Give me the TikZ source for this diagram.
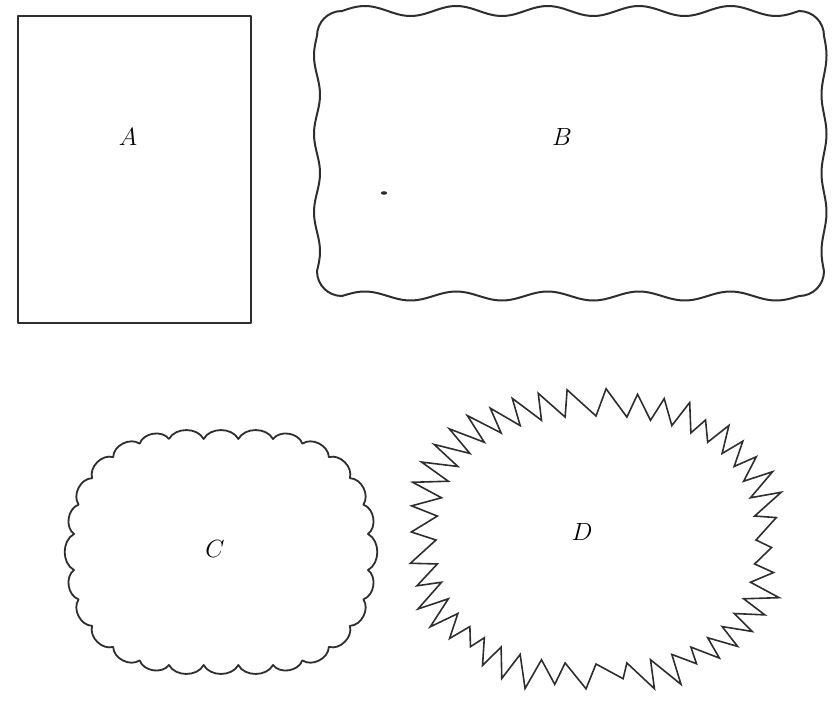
\documentclass[tikz,border=0pt]{standalone}
\begin{document}
\begin{tikzpicture}[x=1pt,y=-1pt,
  outline/.style={draw=black!82, line width=2pt, line join=round},
  letter/.style={font=\fontsize{24}{24}\selectfont, inner sep=0pt}]
\useasboundingbox (0,0) rectangle (835,707);
% A
\draw[outline] (18,16) rectangle (251,323);
\node[letter] (la) at (128,137) {$A$};
% B
\draw[outline]
  (342,11) -- plot[domain=342:799, samples=90, smooth] (\x,{11-5*sin(1800/457*(\x-342))})
  .. controls (813,11) and (824,22) .. (824,36)
  -- plot[domain=36:271, samples=50, smooth] ({824+2.5*sin(1080/235*(\x-36))},\x)
  .. controls (824,285) and (813,296) .. (799,296)
  -- plot[domain=799:342, samples=90, smooth] (\x,{296-4.5*sin(1800/457*(\x-342))})
  .. controls (328,296) and (317,285) .. (317,271)
  -- plot[domain=271:36, samples=50, smooth] ({317-3*sin(1080/235*(\x-36))},\x)
  .. controls (317,22) and (328,11) .. (342,11) -- cycle;
\node[letter] (lb) at (562,137) {$B$};
\fill[black!82] (384,193) ellipse (3.2 and 1.8);
% C : scalloped rounded outline
\foreach \k in {0,...,2} {
  \pgfmathtruncatemacro\n{\k}
  \coordinate (c\n) at ({169+\k*34.67},439);
  \pgfmathtruncatemacro\n{\k+14}
  \coordinate (c\n) at ({273-\k*34.67},665);
}
\foreach \k in {0,...,4} {
  \pgfmathtruncatemacro\n{\k+3}
  \coordinate (c\n) at ({273+95*cos(270+\k*18)},{534+95*sin(270+\k*18)});
  \pgfmathtruncatemacro\n{\k+9}
  \coordinate (c\n) at ({273+95*cos(\k*18)},{570+95*sin(\k*18)});
  \pgfmathtruncatemacro\n{\k+17}
  \coordinate (c\n) at ({169+95*cos(90+\k*18)},{570+95*sin(90+\k*18)});
  \pgfmathtruncatemacro\n{\k+23}
  \coordinate (c\n) at ({169+95*cos(180+\k*18)},{534+95*sin(180+\k*18)});
}
\coordinate (c8) at (368,534);
\coordinate (c22) at (74,570);
\draw[outline, line width=1.8pt] (c0) \foreach \i [evaluate=\i as \j using {int(mod(\i+1,28))}] in {0,...,27} { to[bend left=62] (c\j) };
\node[letter] (lc) at (215,549) {$C$};
% D : zigzag outline
\pgfmathsetseed{3}
\foreach \i in {0,...,43} {
  \pgfmathsetmacro\t{\i*360/44}
  \pgfmathsetmacro\ta{\t+360/44*0.22}
  \pgfmathsetmacro\dd{14+18*rnd}
  \pgfmathsetmacro\ct{cos(\t)}
  \pgfmathsetmacro\st{sin(\t)}
  \pgfmathsetmacro\cta{cos(\ta)}
  \pgfmathsetmacro\sta{sin(\ta)}
  \pgfmathsetmacro\px{596+160*sign(\ct)*pow(abs(\ct)+0.00001,0.85)}
  \pgfmathsetmacro\py{540+124*sign(\st)*pow(abs(\st)+0.00001,0.85)}
  \pgfmathsetmacro\qx{596+(160+\dd)*sign(\cta)*pow(abs(\cta)+0.00001,0.85)}
  \pgfmathsetmacro\qy{540+(124+\dd)*sign(\sta)*pow(abs(\sta)+0.00001,0.85)}
  \coordinate (d\i) at (\px,\py);
  \coordinate (e\i) at (\qx,\qy);
}
\draw[outline, line width=1.6pt, line join=miter] (d0) \foreach \i [evaluate=\i as \j using {int(mod(\i+1,44))}] in {0,...,43} { -- (e\i) -- (d\j) } -- cycle;
\node[letter] (ld) at (582,532) {$D$};
\end{tikzpicture}
\end{document}
